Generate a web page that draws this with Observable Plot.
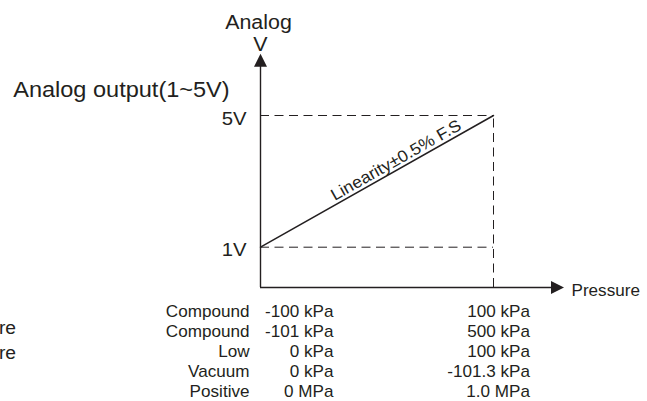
<!DOCTYPE html>
<html><head><meta charset="utf-8">
<script src="https://cdn.jsdelivr.net/npm/d3@7"></script>
<script src="https://cdn.jsdelivr.net/npm/@observablehq/plot@0.6"></script>
<style>html,body{margin:0;padding:0;background:#fff;} svg{display:block}</style>
</head><body><div id="chart"></div>
<script>
// ---- data ----
const voltages = [1, 5];
const voltageLabels = ["1V", "5V"];
const pressureSpan = [0, 1]; // fraction of rated pressure range (min -> max)
const rangeTypes = ["Compound", "Compound", "Low", "Vacuum", "Positive"];
const rangeMins = ["-100 kPa", "-101 kPa", "0 kPa", "0 kPa", "0 MPa"];
const rangeMaxs = ["100 kPa", "500 kPa", "100 kPa", "-101.3 kPa", "1.0 MPa"];
const yAxisTitle = ["Analog", "V"];
const outputTitle = "Analog output(1~5V)";
const xAxisTitle = "Pressure";
const linearityNote = "Linearity±0.5% F.S";
const sideNotes = ["re", "re"];

// ---- layout ----
const W = 647, H = 401;
const frameL = 260, frameR = 493, frameT = 115, frameB = 246.7;
const ink = "#231f20";
const font = "'Liberation Sans', Arial, Helvetica, sans-serif";
const stretch = 1.07; // reference lettering is slightly wide
const pxX = (frameR - frameL) / (pressureSpan[1] - pressureSpan[0]);
const pxY = (frameB - frameT) / (voltages[1] - voltages[0]);
const X = px => pressureSpan[0] + (px - frameL) / pxX;
const Y = py => voltages[0] + (frameB - py) / pxY;
const baseY = (baseline, fs) => Y(baseline - 0.32 * fs); // middle-anchored text

const axisV = Y(287);
const upTri = {draw(ctx) { ctx.moveTo(0, 0); ctx.lineTo(6.5, 13); ctx.lineTo(-6.5, 13); ctx.closePath(); }};
const rightTri = {draw(ctx) { ctx.moveTo(0, 0); ctx.lineTo(-13, -6.5); ctx.lineTo(-13, 6.5); ctx.closePath(); }};

const lineData = pressureSpan.map((p, i) => ({p, v: voltages[i]}));
const angle = -Math.atan2((voltages[1] - voltages[0]) * pxY, (pressureSpan[1] - pressureSpan[0]) * pxX) * 180 / Math.PI;
const noteP = 0.58;
const noteV = voltages[0] + (voltages[1] - voltages[0]) * noteP;

const tableFs = 16;
const rowBase = i => 316.8 + 20 * i;

const chart = Plot.plot({
  width: W, height: H,
  marginLeft: frameL, marginRight: W - frameR, marginTop: frameT, marginBottom: H - frameB,
  x: {domain: pressureSpan, axis: null},
  y: {domain: voltages, axis: null},
  style: {fontFamily: font, color: ink, background: "#fff", overflow: "visible"},
  marks: [
    // dashed guides
    Plot.ruleY(voltages, {x1: pressureSpan[0], x2: pressureSpan[1], stroke: ink, strokeWidth: 1, strokeDasharray: "9,5.5"}),
    Plot.ruleX([pressureSpan[1]], {y1: axisV, y2: voltages[1], stroke: ink, strokeWidth: 1, strokeDasharray: "9,5.5"}),
    // axes
    Plot.ruleX([pressureSpan[0]], {y1: axisV, y2: Y(60), stroke: ink, strokeWidth: 1.4}),
    Plot.ruleY([axisV], {x1: pressureSpan[0], x2: X(556), stroke: ink, strokeWidth: 1.4}),
    Plot.dot([0], {x: pressureSpan[0], y: Y(53.3), symbol: upTri, fill: ink, stroke: null, r: 7}),
    Plot.dot([0], {x: X(563.5), y: axisV, symbol: rightTri, fill: ink, stroke: null, r: 7}),
    // output line
    Plot.line(lineData, {x: "p", y: "v", stroke: ink, strokeWidth: 1.5}),
    // voltage tick labels
    Plot.text(voltages, {x: pressureSpan[0], y: d => d, text: (d, i) => voltageLabels[i], textAnchor: "end", dx: -14, dy: 3, fontSize: 19, fill: ink}),
    // titles
    Plot.text([yAxisTitle[0]], {x: X(258), y: baseY(28.3, 20), text: d => d, fontSize: 20, fill: ink}),
    Plot.text([yAxisTitle[1]], {x: X(260), y: baseY(50, 20), text: d => d, fontSize: 20, fill: ink}),
    Plot.text([outputTitle], {x: X(12.7), y: baseY(96, 22), text: d => d, textAnchor: "start", fontSize: 22, fill: ink}),
    Plot.text([xAxisTitle], {x: X(571), y: baseY(295, 16), text: d => d, textAnchor: "start", fontSize: 16, fill: ink}),
    // linearity note along the line
    Plot.text([linearityNote], {x: noteP, y: noteV, text: d => d, rotate: angle, lineAnchor: "bottom", dx: 3, dy: -6, fontSize: 16.5, fill: ink}),
    // range table
    Plot.text(rangeTypes, {x: X(249), y: (d, i) => baseY(rowBase(i), tableFs), text: d => d, textAnchor: "end", fontSize: tableFs, fill: ink}),
    Plot.text(rangeMins, {x: X(333), y: (d, i) => baseY(rowBase(i), tableFs), text: d => d, textAnchor: "end", fontSize: tableFs, fill: ink}),
    Plot.text(rangeMaxs, {x: X(529.5), y: (d, i) => baseY(rowBase(i), tableFs), text: d => d, textAnchor: "end", fontSize: tableFs, fill: ink}),
    // clipped side notes
    Plot.text(sideNotes, {x: X(15.5), y: (d, i) => baseY(333 + 25 * i, 18), text: d => d, textAnchor: "end", fontSize: 18, fill: ink})
  ]
});
// widen lettering slightly about each text's own anchor
d3.select(chart).selectAll("text").each(function() {
  const t = this.getAttribute("transform") || "";
  this.setAttribute("transform", `${t} scale(${stretch},1)`);
});
document.getElementById("chart").appendChild(chart);
</script>
</body></html>
